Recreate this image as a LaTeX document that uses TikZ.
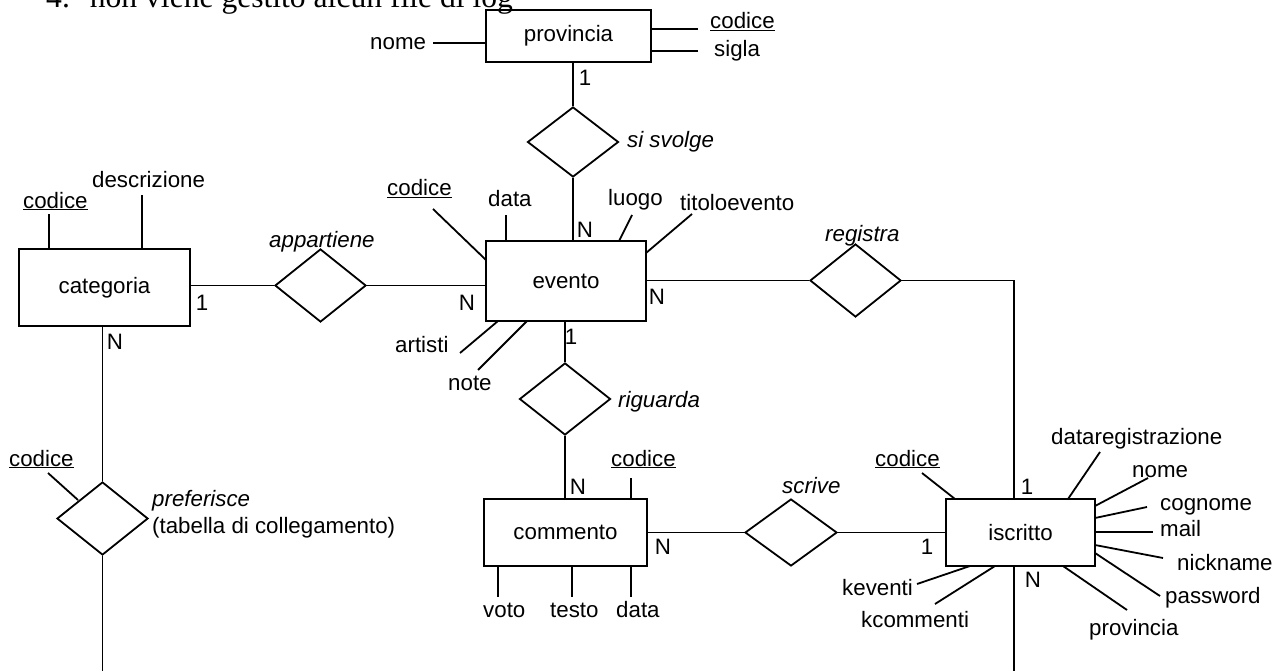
\documentclass[tikz,border=0pt]{standalone}
\usepackage{fontspec}
\setmainfont{Liberation Sans}
\newfontfamily\timesf{Liberation Serif}
\usetikzlibrary{shapes.geometric}
\tikzset{
  ln/.style={line width=1.8pt},
  ent/.style={draw, ln, rectangle, inner sep=0pt},
  rel/.style={draw, ln, diamond, inner sep=0pt, minimum width=91pt, minimum height=72pt},
  lbl/.style={inner sep=0pt, font=\fontsize{22.3}{26}\selectfont},
  txt/.style={lbl, anchor=base west},
  rtxt/.style={txt, font=\fontsize{22.3}{26}\selectfont\itshape},
  card/.style={lbl, anchor=center},
}
\begin{document}
\begin{tikzpicture}[x=1pt, y=-1pt]
\clip (0,0) rectangle (1284,671);
\fill[white] (0,0) rectangle (1284,671);

% heading (cut off at the top, as in the reference)
\node[inner sep=0pt, anchor=base west, font=\timesf\fontsize{31.6}{36}\selectfont] (head) at (46,8) {4.\hspace{20pt}non viene gestito alcun file di log};

% entities
\node[ent, minimum width=165pt, minimum height=52pt] (provincia) at (568.5,36) {\fontsize{22.3}{26}\selectfont provincia};
\node[ent, minimum width=160pt, minimum height=80pt] (evento) at (566,281) {\fontsize{22.3}{26}\selectfont evento};
\node[ent, minimum width=171pt, minimum height=77pt] (categoria) at (104.5,287.5) {\fontsize{22.3}{26}\selectfont categoria};
\node[ent, minimum width=163pt, minimum height=67pt] (commento) at (565.5,532.5) {\fontsize{22.3}{26}\selectfont commento};
\node[ent, minimum width=149pt, minimum height=67pt] (iscritto) at (1020.5,532.5) {\fontsize{22.3}{26}\selectfont iscritto};

% relationships
\node[rel, minimum height=70pt] (svolge) at (573,142) {};
\node[rel, minimum height=73pt] (appart) at (320.5,285.5) {};
\node[rel] (riguarda) at (565,399) {};
\node[rel, minimum height=73pt] (registra) at (855.5,280.5) {};
\node[rel, minimum width=92pt, minimum height=67pt] (scrive) at (791,532.5) {};
\node[rel, minimum height=73pt] (prefer) at (102.5,518.5) {};

% relationship labels
\node[rtxt] (l-svolge) at (627,148) {si svolge};
\node[rtxt] (l-appart) at (269,247) {appartiene};
\node[rtxt] (l-riguarda) at (618,407) {riguarda};
\node[rtxt] (l-registra) at (825,241) {registra};
\node[rtxt] (l-scrive) at (782,493) {scrive};
\node[rtxt] (l-prefer) at (152,506) {preferisce};
\node[txt] (l-tabella) at (152,533) {(tabella di collegamento)};

% connectors
\draw[ln] (svolge.north) -- (svolge.north |- provincia.south);
\draw[ln] (svolge.south) -- (svolge.south |- evento.north);
\draw[ln] (appart.west) -- (appart.west -| categoria.east);
\draw[ln] (appart.east) -- (appart.east -| evento.west);
\draw[ln] (riguarda.north) -- (riguarda.north |- evento.south);
\draw[ln] (riguarda.south) -- (riguarda.south |- commento.north);
\draw[ln] (registra.west) -- (registra.west -| evento.east);
\coordinate (regcorner) at (1014,280.5);
\draw[ln] (registra.east) -- (regcorner) -- (regcorner |- iscritto.north);
\coordinate (iscbot) at (1014,671);
\draw[ln] (iscbot |- iscritto.south) -- (iscbot);
\draw[ln] (scrive.west) -- (scrive.west -| commento.east);
\draw[ln] (scrive.east) -- (scrive.east -| iscritto.west);
\draw[ln] (prefer.north) -- (prefer.north |- categoria.south);
\coordinate (prefbot) at (102.5,671);
\draw[ln] (prefer.south) -- (prefbot);

% cardinalities
\node[card] (c1) at (585,78) {1};
\node[card] (c2) at (585,230) {N};
\node[card] (c3) at (202,303) {1};
\node[card] (c4) at (467,303) {N};
\node[card] (c5) at (657,297) {N};
\node[card] (c6) at (571,337) {1};
\node[card] (c7) at (115,342) {N};
\node[card] (c8) at (578,487) {N};
\node[card] (c9) at (663,547) {N};
\node[card] (c10) at (927,547) {1};
\node[card] (c11) at (1027,487) {1};
\node[card] (c12) at (1033,580) {N};

% provincia attributes
\node[txt] (p-nome) at (370,50) {nome};
\node[txt] (p-codice) at (710,29) {\underline{codice}};
\node[txt] (p-sigla) at (714,57) {sigla};
\draw[ln] (433,43) -- (provincia.west |- 0,43);
\draw[ln] (698,29) -- (provincia.east |- 0,29);
\draw[ln] (698,51) -- (provincia.east |- 0,51);

% evento attributes
\node[txt] (e-codice) at (387,196) {\underline{codice}};
\node[txt] (e-data) at (488,206) {data};
\node[txt] (e-luogo) at (608,205) {luogo};
\node[txt] (e-titolo) at (680,211) {titoloevento};
\node[txt] (e-artisti) at (395,352) {artisti};
\node[txt] (e-note) at (448,390) {note};
\draw[ln] (433,209) -- (486,260);
\draw[ln] (506,215) -- (506,241);
\draw[ln] (632,215) -- (619,241);
\draw[ln] (692,214) -- (646,253);
\draw[ln] (460,353) -- (498,321);
\draw[ln] (478,370) -- (527,321);

% categoria attributes
\node[txt] (c-codice) at (23,208) {\underline{codice}};
\node[txt] (c-descr) at (92,187) {descrizione};
\draw[ln] (49,214) -- (49,249);
\draw[ln] (142,195) -- (142,249);

% preferisce attribute
\node[txt] (pr-codice) at (9,466) {\underline{codice}};
\draw[ln] (48,473) -- (78,500);

% commento attributes
\node[txt] (co-codice) at (611,466) {\underline{codice}};
\node[txt] (co-voto) at (483,617) {voto};
\node[txt] (co-testo) at (550,617) {testo};
\node[txt] (co-data) at (616,617) {data};
\draw[ln] (631,478) -- (631,499);
\draw[ln] (498,566) -- (498,597);
\draw[ln] (572,566) -- (572,597);
\draw[ln] (631,566) -- (631,597);

% iscritto attributes
\node[txt] (i-codice) at (875,466) {\underline{codice}};
\node[txt] (i-datareg) at (1051,444) {dataregistrazione};
\node[txt] (i-nome) at (1132,477) {nome};
\node[txt] (i-cognome) at (1160,510) {cognome};
\node[txt] (i-mail) at (1160,536) {mail};
\node[txt] (i-nick) at (1177,570) {nickname};
\node[txt] (i-pass) at (1165,603) {password};
\node[txt] (i-prov) at (1089,635) {provincia};
\node[txt] (i-kev) at (842,595) {keventi};
\node[txt] (i-kcom) at (861,627) {kcommenti};
\draw[ln] (922,473) -- (955,499);
\draw[ln] (1100,452) -- (1068,499);
\draw[ln] (1148,478) -- (1095,506);
\draw[ln] (1147,507) -- (1095,518);
\draw[ln] (1095,532) -- (1153,532);
\draw[ln] (1095,545) -- (1163,558);
\draw[ln] (1095,553) -- (1160,596);
\draw[ln] (1063,566) -- (1127,610);
\draw[ln] (917,584) -- (970,566);
\draw[ln] (935,604) -- (995,566);
\end{tikzpicture}
\end{document}
